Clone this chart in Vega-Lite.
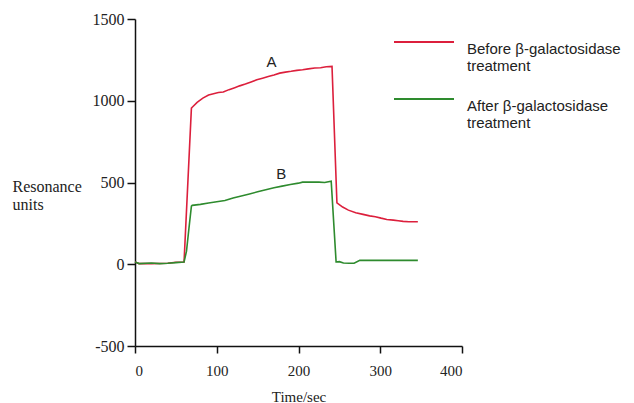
{
  "$schema": "https://vega.github.io/schema/vega-lite/v6.json",
  "autosize": "none",
  "width": 327,
  "height": 327,
  "padding": {"left": 135, "top": 19, "right": 172, "bottom": 57},
  "background": "white",
  "config": {"view": {"stroke": null}},
  "datasets": {
    "curves": [
      {"t": 0, "v": 14, "s": "Before β-galactosidase treatment"},
      {"t": 5, "v": 4, "s": "Before β-galactosidase treatment"},
      {"t": 20, "v": 4, "s": "Before β-galactosidase treatment"},
      {"t": 40, "v": 6, "s": "Before β-galactosidase treatment"},
      {"t": 50, "v": 12, "s": "Before β-galactosidase treatment"},
      {"t": 60, "v": 14, "s": "Before β-galactosidase treatment"},
      {"t": 69, "v": 955, "s": "Before β-galactosidase treatment"},
      {"t": 70, "v": 960, "s": "Before β-galactosidase treatment"},
      {"t": 76, "v": 990, "s": "Before β-galactosidase treatment"},
      {"t": 83, "v": 1016, "s": "Before β-galactosidase treatment"},
      {"t": 90, "v": 1035, "s": "Before β-galactosidase treatment"},
      {"t": 96, "v": 1043, "s": "Before β-galactosidase treatment"},
      {"t": 102, "v": 1050, "s": "Before β-galactosidase treatment"},
      {"t": 108, "v": 1053, "s": "Before β-galactosidase treatment"},
      {"t": 115, "v": 1068, "s": "Before β-galactosidase treatment"},
      {"t": 122, "v": 1080, "s": "Before β-galactosidase treatment"},
      {"t": 128, "v": 1091, "s": "Before β-galactosidase treatment"},
      {"t": 135, "v": 1102, "s": "Before β-galactosidase treatment"},
      {"t": 142, "v": 1115, "s": "Before β-galactosidase treatment"},
      {"t": 149, "v": 1128, "s": "Before β-galactosidase treatment"},
      {"t": 156, "v": 1138, "s": "Before β-galactosidase treatment"},
      {"t": 163, "v": 1148, "s": "Before β-galactosidase treatment"},
      {"t": 170, "v": 1158, "s": "Before β-galactosidase treatment"},
      {"t": 177, "v": 1169, "s": "Before β-galactosidase treatment"},
      {"t": 184, "v": 1175, "s": "Before β-galactosidase treatment"},
      {"t": 191, "v": 1180, "s": "Before β-galactosidase treatment"},
      {"t": 198, "v": 1186, "s": "Before β-galactosidase treatment"},
      {"t": 205, "v": 1190, "s": "Before β-galactosidase treatment"},
      {"t": 212, "v": 1195, "s": "Before β-galactosidase treatment"},
      {"t": 220, "v": 1200, "s": "Before β-galactosidase treatment"},
      {"t": 227, "v": 1202, "s": "Before β-galactosidase treatment"},
      {"t": 234, "v": 1208, "s": "Before β-galactosidase treatment"},
      {"t": 241, "v": 1210, "s": "Before β-galactosidase treatment"},
      {"t": 247, "v": 376, "s": "Before β-galactosidase treatment"},
      {"t": 254, "v": 350, "s": "Before β-galactosidase treatment"},
      {"t": 261, "v": 331, "s": "Before β-galactosidase treatment"},
      {"t": 270, "v": 315, "s": "Before β-galactosidase treatment"},
      {"t": 279, "v": 305, "s": "Before β-galactosidase treatment"},
      {"t": 287, "v": 296, "s": "Before β-galactosidase treatment"},
      {"t": 294, "v": 291, "s": "Before β-galactosidase treatment"},
      {"t": 301, "v": 282, "s": "Before β-galactosidase treatment"},
      {"t": 308, "v": 274, "s": "Before β-galactosidase treatment"},
      {"t": 316, "v": 270, "s": "Before β-galactosidase treatment"},
      {"t": 322, "v": 266, "s": "Before β-galactosidase treatment"},
      {"t": 328, "v": 262, "s": "Before β-galactosidase treatment"},
      {"t": 335, "v": 260, "s": "Before β-galactosidase treatment"},
      {"t": 346, "v": 260, "s": "Before β-galactosidase treatment"},
      {"t": 0, "v": 14, "s": "After β-galactosidase treatment"},
      {"t": 5, "v": 4, "s": "After β-galactosidase treatment"},
      {"t": 20, "v": 8, "s": "After β-galactosidase treatment"},
      {"t": 30, "v": 4, "s": "After β-galactosidase treatment"},
      {"t": 40, "v": 6, "s": "After β-galactosidase treatment"},
      {"t": 50, "v": 10, "s": "After β-galactosidase treatment"},
      {"t": 60, "v": 14, "s": "After β-galactosidase treatment"},
      {"t": 63, "v": 80, "s": "After β-galactosidase treatment"},
      {"t": 66, "v": 220, "s": "After β-galactosidase treatment"},
      {"t": 69, "v": 356, "s": "After β-galactosidase treatment"},
      {"t": 70, "v": 360, "s": "After β-galactosidase treatment"},
      {"t": 80, "v": 366, "s": "After β-galactosidase treatment"},
      {"t": 90, "v": 375, "s": "After β-galactosidase treatment"},
      {"t": 100, "v": 382, "s": "After β-galactosidase treatment"},
      {"t": 110, "v": 390, "s": "After β-galactosidase treatment"},
      {"t": 120, "v": 405, "s": "After β-galactosidase treatment"},
      {"t": 130, "v": 417, "s": "After β-galactosidase treatment"},
      {"t": 140, "v": 430, "s": "After β-galactosidase treatment"},
      {"t": 150, "v": 443, "s": "After β-galactosidase treatment"},
      {"t": 160, "v": 456, "s": "After β-galactosidase treatment"},
      {"t": 170, "v": 468, "s": "After β-galactosidase treatment"},
      {"t": 180, "v": 478, "s": "After β-galactosidase treatment"},
      {"t": 190, "v": 488, "s": "After β-galactosidase treatment"},
      {"t": 200, "v": 496, "s": "After β-galactosidase treatment"},
      {"t": 205, "v": 502, "s": "After β-galactosidase treatment"},
      {"t": 215, "v": 502, "s": "After β-galactosidase treatment"},
      {"t": 225, "v": 502, "s": "After β-galactosidase treatment"},
      {"t": 232, "v": 500, "s": "After β-galactosidase treatment"},
      {"t": 240, "v": 508, "s": "After β-galactosidase treatment"},
      {"t": 246, "v": 14, "s": "After β-galactosidase treatment"},
      {"t": 250, "v": 16, "s": "After β-galactosidase treatment"},
      {"t": 255, "v": 8, "s": "After β-galactosidase treatment"},
      {"t": 262, "v": 6, "s": "After β-galactosidase treatment"},
      {"t": 268, "v": 6, "s": "After β-galactosidase treatment"},
      {"t": 275, "v": 24, "s": "After β-galactosidase treatment"},
      {"t": 290, "v": 24, "s": "After β-galactosidase treatment"},
      {"t": 346, "v": 24, "s": "After β-galactosidase treatment"}
    ],
    "labels": [
      {"t": 167, "v": 1234, "label": "A"},
      {"t": 179, "v": 549, "label": "B"}
    ]
  },
  "layer": [
    {
      "data": {"name": "curves"},
      "mark": {"type": "line", "strokeWidth": 1.6, "interpolate": "linear"},
      "encoding": {
        "x": {
          "field": "t", "type": "quantitative",
          "scale": {"domain": [0, 400], "nice": false, "zero": false},
          "axis": {
            "values": [0, 100, 200, 300, 400],
            "labelExpr": "datum.value + ''",
            "title": "Time/sec",
            "grid": false,
            "domainColor": "#111", "tickColor": "#111",
            "domainWidth": 1.5, "tickWidth": 1.5,
            "tickSize": 7,
            "labelFont": "Liberation Serif", "labelFontSize": 15, "labelColor": "#222",
            "labelPadding": 10,
            "titleFont": "Liberation Serif", "titleFontSize": 15, "titleFontWeight": "normal", "titleColor": "#222",
            "titlePadding": 11
          }
        },
        "y": {
          "field": "v", "type": "quantitative",
          "scale": {"domain": [-500, 1500], "nice": false, "zero": false},
          "axis": {
            "values": [-500, 0, 500, 1000, 1500],
            "labelExpr": "datum.value + ''",
            "title": ["Resonance", "units"],
            "titleAngle": 0,
            "titleAlign": "left",
            "titleBaseline": "alphabetic",
            "titleX": -123,
            "titleY": 172,
            "titleLineHeight": 18,
            "grid": false,
            "domainColor": "#111", "tickColor": "#111",
            "domainWidth": 1.5, "tickWidth": 1.5,
            "tickSize": 8,
            "labelFont": "Liberation Serif", "labelFontSize": 16, "labelColor": "#222",
            "labelPadding": 3,
            "titleFont": "Liberation Serif", "titleFontSize": 16, "titleFontWeight": "normal", "titleColor": "#222"
          }
        },
        "color": {
          "field": "s", "type": "nominal",
          "scale": {
            "domain": ["Before β-galactosidase treatment", "After β-galactosidase treatment"],
            "range": ["#dc1f3c", "#2e8b2e"]
          },
          "legend": {
            "orient": "none",
            "legendX": 273,
            "legendY": 7,
            "title": null,
            "symbolType": "M-2,0H2",
            "symbolSize": 900,
            "symbolStrokeWidth": 1.8,
            "labelExpr": "[replace(datum.label, ' treatment', ''), 'treatment']",
            "labelFont": "Liberation Sans",
            "labelFontSize": 15,
            "labelColor": "#222",
            "labelBaseline": "top",
            "labelOffset": 27,
            "labelLimit": 300,
            "rowPadding": 9
          }
        }
      }
    },
    {
      "data": {"name": "labels"},
      "mark": {"type": "text", "font": "Liberation Sans", "fontSize": 15, "color": "#222"},
      "encoding": {
        "x": {"field": "t", "type": "quantitative"},
        "y": {"field": "v", "type": "quantitative"},
        "text": {"field": "label", "type": "nominal"}
      }
    }
  ]
}
